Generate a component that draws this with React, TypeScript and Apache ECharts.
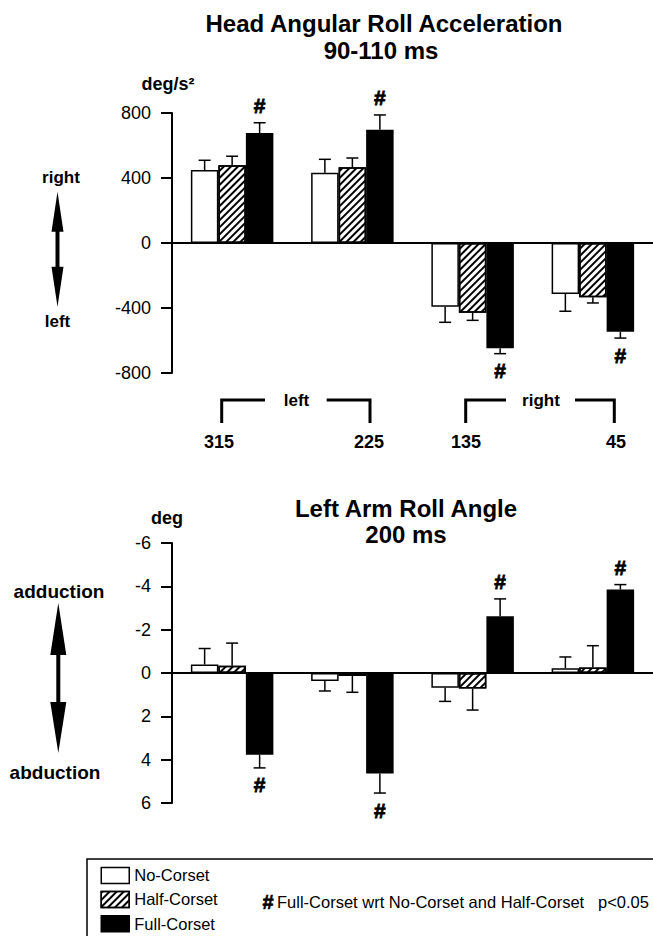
import React, { useEffect, useRef } from 'react';
import * as echarts from 'echarts';

const FONT = '"Liberation Sans", Arial, Helvetica, sans-serif';

// Categories (direction of perturbation, deg)
const categories = ['315', '225', '135', '45'];
const sideLabels = ['left', 'right'];
const seriesNames = ['No-Corset', 'Half-Corset', 'Full-Corset'];

// Head angular roll acceleration, 90-110 ms (deg/s²)
const headNo = [449, 433, -392, -314];
const headNoErr = [60, 82, 96, 106];
const headHalf = [478, 466, -429, -334];
const headHalfErr = [56, 57, 47, 35];
const headFull = [677, 697, -648, -546];
const headFullErr = [63, 91, 33, 39];
const headSig = [1, 1, 1, 1];

// Left arm roll angle, 200 ms (deg)
const armNo = [-0.39, 0.37, 0.68, -0.22];
const armNoErr = [0.74, 0.46, 0.63, 0.52];
const armHalf = [-0.34, 0.14, 0.72, -0.25];
const armHalfErr = [1.04, 0.75, 0.99, 1.01];
const armFull = [3.77, 4.64, -2.62, -3.85];
const armFullErr = [0.61, 0.9, 0.8, 0.23];
const armSig = [1, 1, 1, 1];

const BAR_W = 27.5;

const hatch = {
  symbol: 'rect',
  symbolSize: 1,
  dashArrayX: [1, 0],
  dashArrayY: [2, 3],
  rotation: -Math.PI / 4,
  color: '#000',
};

const barStyles = [
  { color: '#fff', borderColor: '#000', borderWidth: 1.5 },
  { color: '#fff', borderColor: '#000', borderWidth: 1.5, decal: hatch },
  { color: '#000', borderColor: '#000', borderWidth: 0 },
];

function makeBars(gi: number, values: number[][]) {
  return seriesNames.map((name, k) => ({
    type: 'bar',
    name,
    xAxisIndex: gi,
    yAxisIndex: gi,
    data: values[k],
    barWidth: BAR_W,
    barGap: '0%',
    itemStyle: barStyles[k],
    silent: true,
    z: 2,
  }));
}

function makeErrors(gi: number, values: number[][], errs: number[][], sig: number[]) {
  const data: number[][] = [];
  for (let k = 0; k < 3; k++) {
    for (let i = 0; i < categories.length; i++) {
      data.push([i, values[k][i], errs[k][i], k, k === 2 ? sig[i] : 0]);
    }
  }
  return {
    type: 'custom',
    xAxisIndex: gi,
    yAxisIndex: gi,
    clip: false,
    silent: true,
    z: 5,
    encode: { x: 0, y: 1 },
    data,
    renderItem: (params: any, api: any) => {
      const cat = api.value(0);
      const v = api.value(1);
      const e = api.value(2);
      const k = api.value(3);
      const s = api.value(4);
      const p0 = api.coord([cat, v]);
      const p1 = api.coord([cat, v + (v >= 0 ? e : -e)]);
      const x = p0[0] + (k - 1) * BAR_W;
      const dir = p1[1] >= p0[1] ? 1 : -1;
      const children: any[] = [
        { type: 'line', shape: { x1: x, y1: p0[1], x2: x, y2: p1[1] }, style: { stroke: '#000', lineWidth: 1.5 } },
        { type: 'line', shape: { x1: x - 6, y1: p1[1], x2: x + 6, y2: p1[1] }, style: { stroke: '#000', lineWidth: 1.5 } },
      ];
      if (s) {
        children.push({
          type: 'text',
          x,
          y: p1[1] + dir * 17,
          style: {
            text: '#', fill: '#000', stroke: '#000', lineWidth: 0.8, fontSize: 21, fontWeight: 'bold', fontFamily: FONT,
            align: 'center', verticalAlign: 'middle', textAlign: 'center', textVerticalAlign: 'middle',
          },
        });
      }
      return { type: 'group', children };
    },
  };
}

function txt(text: string, x: number, y: number, size: number, bold: boolean, align = 'center', extra: any = {}) {
  return {
    type: 'text',
    x,
    y,
    silent: true,
    style: {
      text, fill: '#000', fontSize: size, fontWeight: bold ? 'bold' : 'normal', fontFamily: FONT,
      align, verticalAlign: 'middle', textAlign: align, textVerticalAlign: 'middle', ...extra,
    },
  };
}

function arrow(x: number, top: number, headLen1: number, bottom: number, headLen2: number, halfW: number) {
  return [
    { type: 'polygon', silent: true, shape: { points: [[x, top], [x - halfW, top + headLen1], [x + halfW, top + headLen1]] }, style: { fill: '#000' } },
    { type: 'line', silent: true, shape: { x1: x, y1: top + headLen1 - 2, x2: x, y2: bottom - headLen2 + 2 }, style: { stroke: '#000', lineWidth: 4 } },
    { type: 'polygon', silent: true, shape: { points: [[x, bottom], [x - halfW, bottom - headLen2], [x + halfW, bottom - headLen2]] }, style: { fill: '#000' } },
  ];
}

function bracket(xa: number, xb: number, y: number, drop: number, gapL: number, gapR: number) {
  return [
    { type: 'polyline', silent: true, shape: { points: [[xa, y + drop], [xa, y], [gapL, y]] }, style: { stroke: '#000', lineWidth: 3, fill: 'none' } },
    { type: 'polyline', silent: true, shape: { points: [[gapR, y], [xb, y], [xb, y + drop]] }, style: { stroke: '#000', lineWidth: 3, fill: 'none' } },
  ];
}

function yAxis(gi: number, min: number, max: number, interval: number, inverse: boolean) {
  return {
    type: 'value',
    gridIndex: gi,
    min,
    max,
    interval,
    inverse,
    axisLine: { show: true, lineStyle: { color: '#000', width: 2 } },
    axisTick: { show: true, length: 11, lineStyle: { color: '#000', width: 2 } },
    axisLabel: { color: '#000', fontSize: 18, fontFamily: FONT, margin: 21 },
    splitLine: { show: false },
  };
}

function xAxis(gi: number) {
  return {
    type: 'category',
    gridIndex: gi,
    data: categories,
    boundaryGap: true,
    axisLine: { show: true, onZero: true, lineStyle: { color: '#000', width: 2 } },
    axisTick: { show: false },
    axisLabel: { show: false },
    splitLine: { show: false },
  };
}

const legendTops = [866.7, 890.7, 915];

export default function App() {
  const ref = useRef<HTMLDivElement>(null);
  useEffect(() => {
    if (!ref.current) return;
    const chart = echarts.init(ref.current, undefined, { renderer: 'svg' });
    const graphic: any[] = [
      txt('Head Angular Roll Acceleration', 384, 23, 24, true),
      txt('90-110 ms', 381, 50, 24, true),
      txt('deg/s²', 168, 84, 18, true),
      txt('right', 61, 177, 17, true),
      txt('left', 57.5, 321, 17, true),
      ...arrow(57.5, 191.7, 40, 306.7, 40, 6),
      ...bracket(221.7, 370, 400, 23, 265, 326.7),
      txt(sideLabels[0], 296.5, 400, 17, true),
      ...bracket(465.7, 614.3, 400, 23, 506, 575),
      txt(sideLabels[1], 541, 400, 17, true),
      txt(categories[0], 219, 441.5, 18, true),
      txt(categories[1], 369, 441.5, 18, true),
      txt(categories[2], 466, 441.5, 18, true),
      txt(categories[3], 616, 441.5, 18, true),
      txt('Left Arm Roll Angle', 406, 508, 24, true),
      txt('200 ms', 406, 534, 24, true),
      txt('deg', 167, 518, 18, true),
      txt('adduction', 59, 591, 19, true),
      txt('abduction', 55, 772, 19, true),
      ...arrow(58.3, 603, 52, 753, 51, 8),
      { type: 'rect', silent: true, shape: { x: 87, y: 859, width: 600, height: 120 }, style: { fill: 'none', stroke: '#000', lineWidth: 1.5 } },
      txt('#', 268, 902, 20, true, 'center', { stroke: '#000', lineWidth: 0.6 }),
      txt('Full-Corset wrt No-Corset and Half-Corset', 277, 902, 16.5, false, 'left'),
      txt('p<0.05', 598, 902, 16.5, false, 'left'),
    ];
    chart.setOption({
      animation: false,
      grid: [
        { left: 172, top: 113, width: 490, height: 260 },
        { left: 172, top: 543, width: 490, height: 260 },
      ],
      xAxis: [xAxis(0), xAxis(1)],
      yAxis: [yAxis(0, -800, 800, 400, false), yAxis(1, -6, 6, 2, true)],
      legend: seriesNames.map((name, i) => ({
        data: [name],
        orient: 'vertical',
        left: 100.5,
        top: legendTops[i],
        padding: 0,
        icon: 'rect',
        itemWidth: 28,
        itemHeight: 16,
        selectedMode: false,
        itemStyle: { borderColor: '#000', borderWidth: 1.5 },
        textStyle: { color: '#000', fontSize: 16.5, fontFamily: FONT, lineHeight: 16 },
      })),
      graphic,
      series: [
        ...makeBars(0, [headNo, headHalf, headFull]),
        makeErrors(0, [headNo, headHalf, headFull], [headNoErr, headHalfErr, headFullErr], headSig),
        ...makeBars(1, [armNo, armHalf, armFull]),
        makeErrors(1, [armNo, armHalf, armFull], [armNoErr, armHalfErr, armFullErr], armSig),
      ],
    });
    return () => chart.dispose();
  }, []);
  return (
    <div
      ref={ref}
      style={{ position: 'absolute', left: 0, top: 0, width: 653, height: 936, background: '#fff' }}
    />
  );
}
